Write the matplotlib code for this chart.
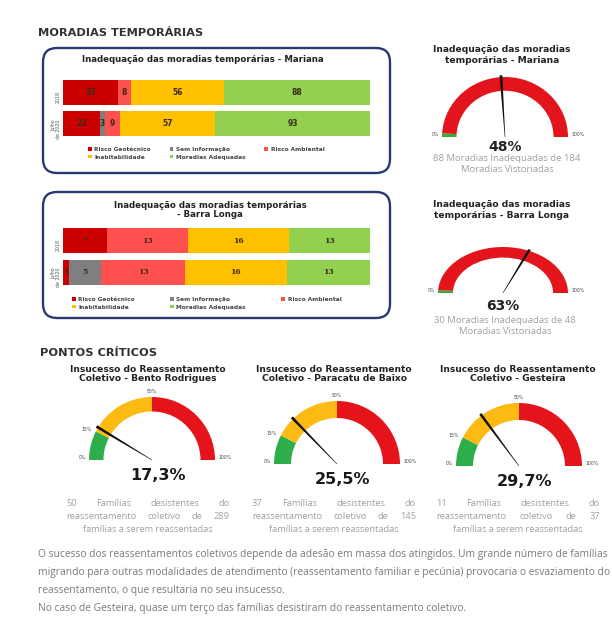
import numpy as np
import matplotlib
matplotlib.use("Agg")
import matplotlib.pyplot as plt
from matplotlib.patches import Wedge, Polygon, FancyBboxPatch

W, H = 612, 619

# dados das barras (valores absolutos, mostrados como 100% empilhado)
categorias = ["Risco Geotécnico", "Sem Informação", "Risco Ambiental",
              "Inabitabilidade", "Moradias Adequadas"]
periodos = ["2018", "Julho\nde 2020"]
mariana = [[33, 0, 8, 56, 88],
           [22, 3, 9, 57, 93]]
barra_longa = [[7, 0, 13, 16, 13],
               [1, 5, 13, 16, 13]]

# velocimetros - moradias temporarias
moradias_titulos = ["Inadequação das moradias\ntemporárias - Mariana",
                    "Inadequação das moradias\ntemporárias - Barra Longa"]
moradias_pct = [48, 63]
moradias_notas = ["88 Moradias Inadequadas de 184\nMoradias Vistoriadas",
                  "30 Moradias Inadequadas de 48\nMoradias Vistoriadas"]
moradias_faixas = [0, 2, 100]
moradias_marcas = [0, 100]

# velocimetros - pontos criticos
pontos_titulos = ["Insucesso do Reassentamento\nColetivo - Bento Rodrigues",
                  "Insucesso do Reassentamento\nColetivo - Paracatu de Baixo",
                  "Insucesso do Reassentamento\nColetivo - Gesteira"]
pontos_pct = [17.3, 25.5, 29.7]
pontos_notas = [["50 Famílias desistentes do", "reassentamento coletivo de 289",
                 "famílias a serem reassentadas"],
                ["37 Famílias desistentes do", "reassentamento coletivo de 145",
                 "famílias a serem reassentadas"],
                ["11 Famílias desistentes do", "reassentamento coletivo de 37",
                 "famílias a serem reassentadas"]]
pontos_faixas = [0, 15, 50, 100]
pontos_marcas = [0, 15, 50, 100]

paragrafo = [
    "O sucesso dos reassentamentos coletivos depende da adesão em massa dos atingidos. "
    "Um grande número de famílias",
    "migrando para outras modalidades de atendimento (reassentamento familiar e pecúnia) "
    "provocaria o esvaziamento do",
    "reassentamento, o que resultaria no seu insucesso.",
    "No caso de Gesteira, quase um terço das famílias desistiram do reassentamento coletivo.",
]

cores_cat = ["#CC0000", "#7F7F7F", "#FF5050", "#FFC000", "#92D050"]
cores_dir = ["#3AAA35", "#E3141B"]
cores_pontos = ["#2EAD4B", "#FDBA12", "#E5141B"]

TIT = "#333333"
CINZA = "#A0A0A0"
CORPO = "Open Sans"

fig = plt.figure(figsize=(6.12, 6.19), dpi=100)
bg = fig.add_axes([0, 0, 1, 1])
bg.set_xlim(0, W)
bg.set_ylim(H, 0)
bg.axis("off")


def px_axes(x0, y0, x1, y1):
    return fig.add_axes([x0 / W, 1 - y1 / H, (x1 - x0) / W, (y1 - y0) / H])


def barras(dados, y0, y1, leg_xy, colsp, serif):
    ax = px_axes(63, y0, 370, y1)
    dados = np.array(dados, float)
    pct = dados / dados.sum(axis=1, keepdims=True) * 100
    esq = np.zeros(len(periodos))
    for i, (cat, cor) in enumerate(zip(categorias, cores_cat)):
        ax.barh(range(len(periodos)), pct[:, i], left=esq, height=0.8,
                color=cor, label=cat)
        for j in range(len(periodos)):
            if dados[j, i] > 0:
                ax.text(esq[j] + pct[j, i] / 2, j, f"{int(dados[j, i])}",
                        ha="center", va="center", fontsize=5.5, fontweight="bold",
                        color="#3a2a1a",
                        family="DejaVu Serif" if serif else "DejaVu Sans")
        esq += pct[:, i]
    ax.set_xlim(0, 100)
    ax.set_ylim(1.4, -0.4)
    ax.set_yticks(range(len(periodos)))
    ax.set_yticklabels(periodos, rotation=90, fontsize=3.4, color="#555555",
                       linespacing=0.9)
    ax.tick_params(axis="y", length=0, pad=1.5)
    ax.set_xticks([])
    for s in ax.spines.values():
        s.set_visible(False)
    h, l = ax.get_legend_handles_labels()
    ordem = [0, 3, 1, 4, 2]
    ax.legend([h[k] for k in ordem], [l[k] for k in ordem], ncol=3,
              loc="upper left", bbox_to_anchor=leg_xy, bbox_transform=bg.transData,
              frameon=False, prop={"size": 4.2, "weight": "bold"},
              labelcolor="#444444", handlelength=0.6, handleheight=0.6,
              handletextpad=0.5, columnspacing=colsp, labelspacing=0.45,
              borderpad=0, borderaxespad=0)
    return ax


def gauge(cx, cy, rx, ry, valor, faixas, cores, largura, marcas, fs):
    ax = px_axes(cx - 1.45 * rx, cy - 1.2 * ry, cx + 1.45 * rx, cy + 0.3 * ry)
    ax.set_xlim(-1.45, 1.45)
    ax.set_ylim(-0.3, 1.2)
    ax.axis("off")
    for a, b, c in zip(faixas[:-1], faixas[1:], cores):
        ax.add_patch(Wedge((0, 0), 1, 180 - b * 1.8, 180 - a * 1.8,
                           width=largura, facecolor=c, edgecolor="none"))
    ang = np.radians(180 - valor * 1.8)
    u = np.array([np.cos(ang), np.sin(ang)])
    n = np.array([-u[1], u[0]])
    ponta = 1.03 * u
    ax.add_patch(Polygon([0.004 * n, ponta + 0.022 * n, ponta - 0.022 * n,
                          -0.004 * n], closed=True, facecolor="#111111",
                         edgecolor="none"))
    for m in marcas:
        t = np.radians(180 - m * 1.8)
        c, s = np.cos(t), np.sin(t)
        if m == 0:
            ax.text(-1.05, 0.0, "0%", ha="right", va="bottom", fontsize=fs, color="#444")
        elif m == 100:
            ax.text(1.05, 0.0, "100%", ha="left", va="bottom", fontsize=fs, color="#444")
        else:
            ha = "center" if abs(c) < 0.3 else ("right" if c < 0 else "left")
            ax.text(1.07 * c, 1.05 * s, f"{m}%", ha=ha,
                    va="bottom" if abs(c) < 0.3 else "center", fontsize=fs, color="#444")
    return ax


def fmt_pct(v):
    return (f"{v:.1f}".replace(".", ",") if v % 1 else f"{int(v)}") + "%"


def justificar(x0, x1, y, linha, **kw):
    palavras = linha.split()
    textos = [bg.text(0, y, p, ha="left", va="center", **kw) for p in palavras]
    r = fig.canvas.get_renderer()
    larg = [t.get_window_extent(r).width for t in textos]
    gap = (x1 - x0 - sum(larg)) / max(len(palavras) - 1, 1)
    x = x0
    for t, w in zip(textos, larg):
        t.set_x(x)
        x += w + gap


# cabecalhos
bg.text(38, 33, "MORADIAS TEMPORÁRIAS", fontsize=8.2, fontweight="bold", color=TIT,
        va="center")
bg.text(40, 353, "PONTOS CRÍTICOS", fontsize=8.2, fontweight="bold", color=TIT,
        va="center")

# caixas
for y0, y1 in [(48, 173), (192, 318)]:
    bg.add_patch(FancyBboxPatch((43, y0), 347, y1 - y0,
                                boxstyle="round,pad=0,rounding_size=14",
                                facecolor="white", edgecolor="#2B3A6E", lw=1.7))

bg.text(203, 60, "Inadequação das moradias temporárias - Mariana", ha="center",
        va="center", fontsize=6.2, fontweight="bold", color="#222222")
bg.text(210, 210, "Inadequação das moradias temporárias\n- Barra Longa", ha="center",
        va="center", fontsize=6.2, fontweight="bold", color="#222222", linespacing=1.1)

barras(mariana, 80, 136, (88, 147), 3.2, False)
barras(barra_longa, 228, 285, (72, 297), 6.0, True)

# velocimetros da direita
geo_dir = [(505, 137, 63, 60, 55, 147, 164), (503, 293, 65, 46, 210, 306, 326)]
for k, (cx, cy, rx, ry, ty, py, ny) in enumerate(geo_dir):
    bg.text(502, ty, moradias_titulos[k], ha="center", va="center", fontsize=6.6,
            fontweight="bold", color="#222222", linespacing=1.15)
    gauge(cx, cy, rx, ry, moradias_pct[k], moradias_faixas, cores_dir, 0.23,
          moradias_marcas, 3.3)
    bg.text(cx, py, fmt_pct(moradias_pct[k]), ha="center", va="center", fontsize=10,
            fontweight="bold", color="#222222")
    bg.text(cx + 2, ny, moradias_notas[k], ha="center", va="center", fontsize=6.8,
            color=CINZA, family=CORPO, linespacing=1.15)

# velocimetros dos pontos criticos
geo_pts = [(152, 460, 148, 0.23), (337, 464, 334, 0.27), (519, 466, 518, 0.27)]
for k, (cx, cy, tx, larg) in enumerate(geo_pts):
    bg.text(tx, 374, pontos_titulos[k], ha="center", va="center", fontsize=6.6,
            fontweight="bold", color="#222222", linespacing=1.1)
    gauge(cx, cy, 63, 63, pontos_pct[k], pontos_faixas, cores_pontos, larg,
          pontos_marcas, 3.3)
    bg.text(cx + 6, cy + 16, fmt_pct(pontos_pct[k]), ha="center", va="center",
            fontsize=11.5, fontweight="bold", color="#1a1a1a")
    linhas = pontos_notas[k]
    for i, ln in enumerate(linhas):
        yy = 504 + i * 12.5
        if i < len(linhas) - 1:
            justificar(tx - 82, tx + 82, yy, ln, fontsize=6.7, color=CINZA, family=CORPO)
        else:
            bg.text(tx, yy, ln, ha="center", va="center", fontsize=6.7, color=CINZA,
                    family=CORPO)

for i, ln in enumerate(paragrafo):
    bg.text(38, [555, 573, 591, 608][i], ln, ha="left", va="center", fontsize=7.35,
            color="#7a7a7a", family=CORPO)

fig.savefig("out.png", dpi=100)
